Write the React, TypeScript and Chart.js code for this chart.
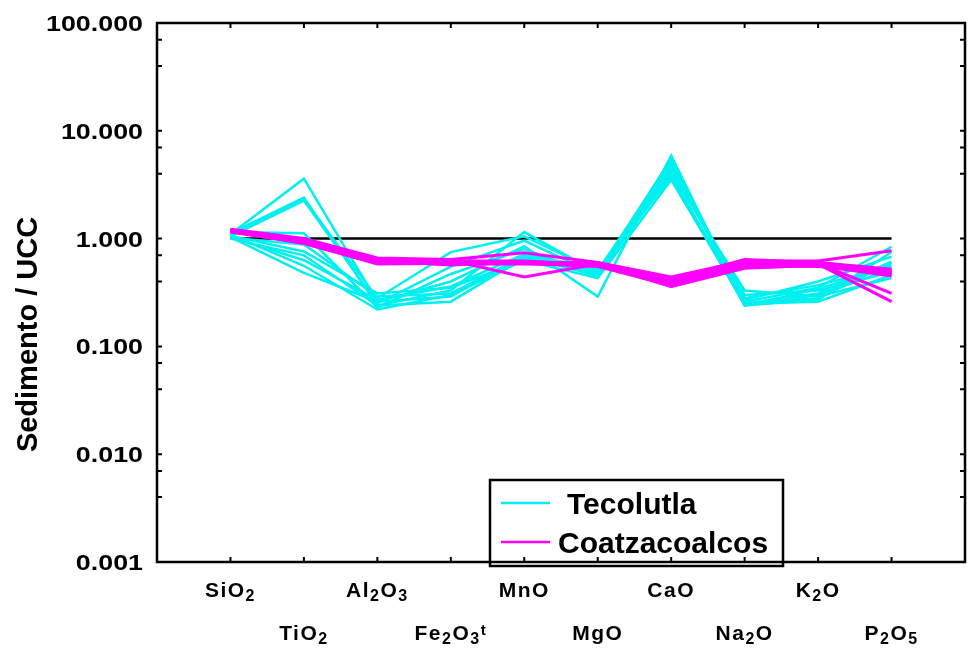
import React, { useEffect, useRef } from "react";
import { Chart, registerables } from "chart.js";

Chart.register(...registerables);

// ---------- DATA ----------
const CATEGORIES = ["SiO_2", "TiO_2", "Al_2O_3", "Fe_2O_3^t", "MnO", "MgO", "CaO", "Na_2O", "K_2O", "P_2O_5"];
const Y_TICK_VALUES = [0.001, 0.01, 0.1, 1, 10, 100];
const Y_TICK_LABELS = ["0.001", "0.010", "0.100", "1.000", "10.000", "100.000"];
const Y_MINOR_TICKS = [0.004, 0.007, 0.04, 0.07, 0.4, 0.7, 4, 7, 40, 70];
const Y_TITLE = "Sedimento / UCC";
const LEGEND_LABELS = ["Tecolutla", "Coatzacoalcos"];
const REFERENCE_LINE = [1, 1, 1, 1, 1, 1, 1, 1, 1, 1];

// Tecolutla samples (normalised to UCC)
const TECOLUTLA = [
  [1.10, 3.60, 0.26, 0.40, 0.85, 0.29, 5.90, 0.24, 0.27, 0.75],
  [1.12, 2.40, 0.24, 0.33, 1.15, 0.48, 5.50, 0.25, 0.31, 0.61],
  [1.08, 2.30, 0.28, 0.75, 1.05, 0.50, 5.20, 0.26, 0.35, 0.84],
  [1.05, 2.25, 0.25, 0.55, 0.96, 0.46, 4.90, 0.27, 0.40, 0.68],
  [1.15, 1.12, 0.23, 0.47, 0.80, 0.44, 4.60, 0.28, 0.37, 0.55],
  [1.02, 0.88, 0.29, 0.31, 0.69, 0.45, 4.30, 0.30, 0.33, 0.49],
  [1.06, 0.76, 0.31, 0.35, 0.64, 0.51, 4.10, 0.33, 0.29, 0.43],
  [1.00, 0.70, 0.24, 0.26, 0.67, 0.47, 3.90, 0.25, 0.28, 0.60],
  [1.04, 0.63, 0.27, 0.36, 0.72, 0.52, 3.70, 0.24, 0.30, 0.52],
  [1.09, 0.56, 0.22, 0.30, 0.63, 0.43, 3.50, 0.25, 0.26, 0.46],
  [1.03, 0.48, 0.26, 0.29, 0.70, 0.49, 5.00, 0.24, 0.34, 0.57],
];

// Coatzacoalcos samples (normalised to UCC)
const COATZACOALCOS = [
  [1.22, 1.00, 0.66, 0.64, 0.74, 0.60, 0.44, 0.62, 0.62, 0.77],
  [1.20, 0.98, 0.65, 0.63, 0.44, 0.58, 0.42, 0.64, 0.60, 0.52],
  [1.19, 0.96, 0.64, 0.62, 0.62, 0.57, 0.40, 0.60, 0.60, 0.50],
  [1.18, 0.95, 0.63, 0.61, 0.60, 0.58, 0.39, 0.58, 0.59, 0.31],
  [1.17, 0.93, 0.62, 0.60, 0.61, 0.56, 0.38, 0.56, 0.58, 0.26],
  [1.16, 0.92, 0.61, 0.62, 0.59, 0.55, 0.37, 0.55, 0.57, 0.47],
  [1.20, 0.94, 0.60, 0.58, 0.58, 0.57, 0.36, 0.54, 0.56, 0.45],
  [1.18, 0.90, 0.59, 0.60, 0.60, 0.59, 0.38, 0.57, 0.55, 0.49],
  [1.15, 0.91, 0.58, 0.59, 0.59, 0.60, 0.36, 0.53, 0.57, 0.50],
  [1.21, 0.97, 0.62, 0.57, 0.61, 0.58, 0.40, 0.59, 0.58, 0.48],
];

const CYAN = "#00F0F0";
const MAGENTA = "#FF00FF";
const FONT = '"Liberation Sans", Arial, sans-serif';

function toPoints(values: number[]) {
  return values.map((v, i) => ({ x: i + 1, y: v }));
}

function parseRich(label: string) {
  const segs: { t: string; k: "n" | "sub" | "sup" }[] = [];
  for (let i = 0; i < label.length; i++) {
    const c = label[i];
    if (c === "_" && i + 1 < label.length) {
      segs.push({ t: label[i + 1], k: "sub" });
      i++;
    } else if (c === "^" && i + 1 < label.length) {
      segs.push({ t: label[i + 1], k: "sup" });
      i++;
    } else {
      const last = segs[segs.length - 1];
      if (last && last.k === "n") last.t += c;
      else segs.push({ t: c, k: "n" });
    }
  }
  return segs;
}

function fontFor(k: string) {
  if (k === "sub") return `bold 16px ${FONT}`;
  if (k === "sup") return `bold 15px ${FONT}`;
  return `bold 21px ${FONT}`;
}

const framePlugin = {
  id: "framePlugin",
  afterDraw(chart: any) {
    const ctx = chart.ctx as CanvasRenderingContext2D;
    const ca = chart.chartArea;
    const xs = chart.scales.x;
    const ys = chart.scales.y;
    ctx.save();
    ctx.strokeStyle = "#000";
    ctx.fillStyle = "#000";

    // frame
    ctx.lineWidth = 2.5;
    ctx.strokeRect(ca.left, ca.top, ca.right - ca.left, ca.bottom - ca.top);

    // ticks
    ctx.lineWidth = 2;
    ctx.beginPath();
    CATEGORIES.forEach((_, i) => {
      const px = xs.getPixelForValue(i + 1);
      ctx.moveTo(px, ca.bottom);
      ctx.lineTo(px, ca.bottom - 5);
      ctx.moveTo(px, ca.top);
      ctx.lineTo(px, ca.top + 5);
    });
    [...Y_TICK_VALUES, ...Y_MINOR_TICKS].forEach((v) => {
      const py = ys.getPixelForValue(v);
      ctx.moveTo(ca.left, py);
      ctx.lineTo(ca.left + 5, py);
      ctx.moveTo(ca.right, py);
      ctx.lineTo(ca.right - 5, py);
    });
    ctx.stroke();

    // y tick labels (horizontally stretched bold digits)
    const stretch = 1.22;
    ctx.font = `bold 22px ${FONT}`;
    ctx.textAlign = "right";
    ctx.textBaseline = "alphabetic";
    Y_TICK_VALUES.forEach((v, i) => {
      const py = ys.getPixelForValue(v);
      ctx.save();
      ctx.translate(ca.left - 14, py + 8);
      ctx.scale(stretch, 1);
      ctx.fillText(Y_TICK_LABELS[i], 0, 0);
      ctx.restore();
    });

    // x tick labels with subscripts, in two staggered rows
    (ctx as any).letterSpacing = "1.5px";
    ctx.textAlign = "left";
    CATEGORIES.forEach((lab, i) => {
      const px = xs.getPixelForValue(i + 1);
      const base = ca.bottom + (i % 2 === 0 ? 35 : 78);
      const segs = parseRich(lab);
      let total = 0;
      const widths = segs.map((s) => {
        ctx.font = fontFor(s.k);
        const w = ctx.measureText(s.t).width;
        total += w;
        return w;
      });
      let x = px - total / 2;
      segs.forEach((s, j) => {
        ctx.font = fontFor(s.k);
        const dy = s.k === "sub" ? 4 : s.k === "sup" ? -5 : 0;
        ctx.fillText(s.t, x, base + dy);
        x += widths[j];
      });
    });
    (ctx as any).letterSpacing = "0px";

    // y title
    ctx.save();
    ctx.translate(37, 334.5);
    ctx.rotate(-Math.PI / 2);
    ctx.font = `bold 29px ${FONT}`;
    ctx.textAlign = "center";
    ctx.textBaseline = "alphabetic";
    ctx.fillText(Y_TITLE, 0, 0);
    ctx.restore();

    // legend box
    const bx = ca.left + 333;
    const by = ca.top + 457;
    const bw = 293;
    const bh = 86;
    ctx.strokeStyle = "#000";
    ctx.lineWidth = 2.5;
    ctx.strokeRect(bx, by, bw, bh);
    const colors = [CYAN, MAGENTA];
    const rowsY = [by + 23, by + 62];
    const textX = [bx + 77, bx + 68];
    LEGEND_LABELS.forEach((lab, i) => {
      ctx.strokeStyle = colors[i];
      ctx.lineWidth = 2.5;
      ctx.beginPath();
      ctx.moveTo(bx + 11, rowsY[i]);
      ctx.lineTo(bx + 60, rowsY[i]);
      ctx.stroke();
      ctx.fillStyle = "#000";
      ctx.font = `bold 30px ${FONT}`;
      ctx.textAlign = "left";
      ctx.textBaseline = "alphabetic";
      ctx.fillText(lab, textX[i], rowsY[i] + 11);
    });
    ctx.restore();
  },
};

export default function App() {
  const ref = useRef<HTMLCanvasElement | null>(null);
  useEffect(() => {
    if (!ref.current) return;
    const datasets: any[] = [];
    COATZACOALCOS.forEach((s, i) =>
      datasets.push({
        label: `Coatzacoalcos ${i + 1}`,
        data: toPoints(s),
        borderColor: MAGENTA,
        backgroundColor: MAGENTA,
        borderWidth: 3,
        pointRadius: 0,
        order: 1,
      })
    );
    TECOLUTLA.forEach((s, i) =>
      datasets.push({
        label: `Tecolutla ${i + 1}`,
        data: toPoints(s),
        borderColor: CYAN,
        backgroundColor: CYAN,
        borderWidth: 2.5,
        pointRadius: 0,
        order: 2,
      })
    );
    datasets.push({
      label: "UCC",
      data: toPoints(REFERENCE_LINE),
      borderColor: "#000",
      borderWidth: 2.5,
      pointRadius: 0,
      order: 10,
    });
    const chart = new Chart(ref.current, {
      type: "line",
      data: { datasets },
      options: {
        animation: false,
        responsive: false,
        maintainAspectRatio: false,
        devicePixelRatio: 1,
        layout: { padding: { left: 157, top: 23, right: 3, bottom: 87 } },
        elements: { line: { tension: 0 } },
        scales: {
          x: { type: "linear", min: 0, max: 11, display: false },
          y: { type: "logarithmic", min: 0.001, max: 100, display: false },
        },
        plugins: { legend: { display: false }, tooltip: { enabled: false } },
      },
      plugins: [framePlugin],
    });
    return () => chart.destroy();
  }, []);
  return (
    <div style={{ position: "absolute", left: 0, top: 0, width: 968, height: 649, background: "#fff" }}>
      <canvas ref={ref} width={968} height={649} style={{ width: 968, height: 649 }} />
    </div>
  );
}
